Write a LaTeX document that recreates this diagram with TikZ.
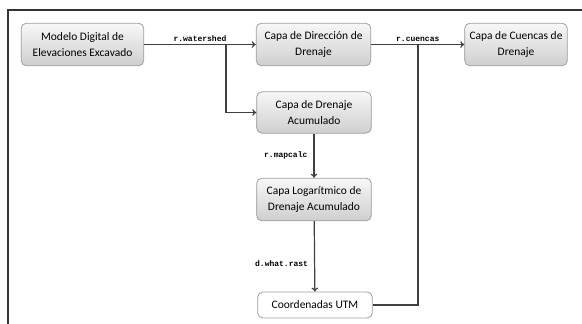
\documentclass[tikz,border=0pt]{standalone}
\usepackage{fontspec}
\setmainfont{Carlito}
\setmonofont{Liberation Mono}
\usepackage{tikz}
\usetikzlibrary{arrows.meta}

\tikzset{
	capa/.style={draw=gray!75, line width=0.6pt, rounded corners=4pt,
		top color=gray!6, bottom color=gray!38, align=center,
		font=\fontsize{8.6}{12}\selectfont, inner sep=1pt},
	flecha/.style={draw=black!75, line width=0.9pt, -{To[length=3pt,width=5pt]}},
	linea/.style={draw=black!75, line width=0.9pt},
	orden/.style={font=\fontsize{6}{7}\ttfamily\bfseries, inner sep=1.5pt}
}

\begin{document}
\begin{tikzpicture}[x=0.75pt,y=-0.75pt]
			\useasboundingbox (0,0) rectangle (582,324);
			% marco
			\draw[black!80, line width=1pt] (582,10) -- (8,10) -- (8,324);
			% capas
			\node[capa, minimum width=92pt, minimum height=32pt] (modelo) at (82.5,44.5) {Modelo Digital de\\Elevaciones Excavado};
			\node[capa, minimum width=86pt, minimum height=32pt] (direccion) at (313.5,44.5) {Capa de Dirección de\\Drenaje};
			\node[capa, minimum width=77pt, minimum height=32pt] (cuencas) at (516,44.5) {Capa de Cuencas de\\Drenaje};
			\node[capa, minimum width=86pt, minimum height=31pt] (acumulado) at (314,112.5) {Capa de Drenaje\\Acumulado};
			\node[capa, minimum width=86pt, minimum height=32pt] (logaritmico) at (314,199.5) {Capa Logarítmico de\\Drenaje Acumulado};
			\node[capa, top color=white, bottom color=white, minimum width=86pt, minimum height=19.5pt] (utm) at (315,305) {Coordenadas UTM};
			% puntos de union
			\coordinate (rama) at (226,44.5);
			\coordinate (union) at (418,44.5);
			% conexiones
			\draw[flecha] (modelo) -- (direccion) node[orden, midway, above] {r.watershed};
			\draw[flecha] (rama) |- (acumulado);
			\draw[flecha] (direccion) -- (cuencas) node[orden, midway, above] {r.cuencas};
			\draw[flecha] (acumulado) -- (logaritmico) node[orden, midway, left, xshift=-3pt] {r.mapcalc};
			\draw[flecha] (logaritmico) -- (utm) node[orden, pos=0.6, left, xshift=-3pt] {d.what.rast};
			\draw[linea] (utm.east) -| (union);
		\end{tikzpicture}
\end{document}
